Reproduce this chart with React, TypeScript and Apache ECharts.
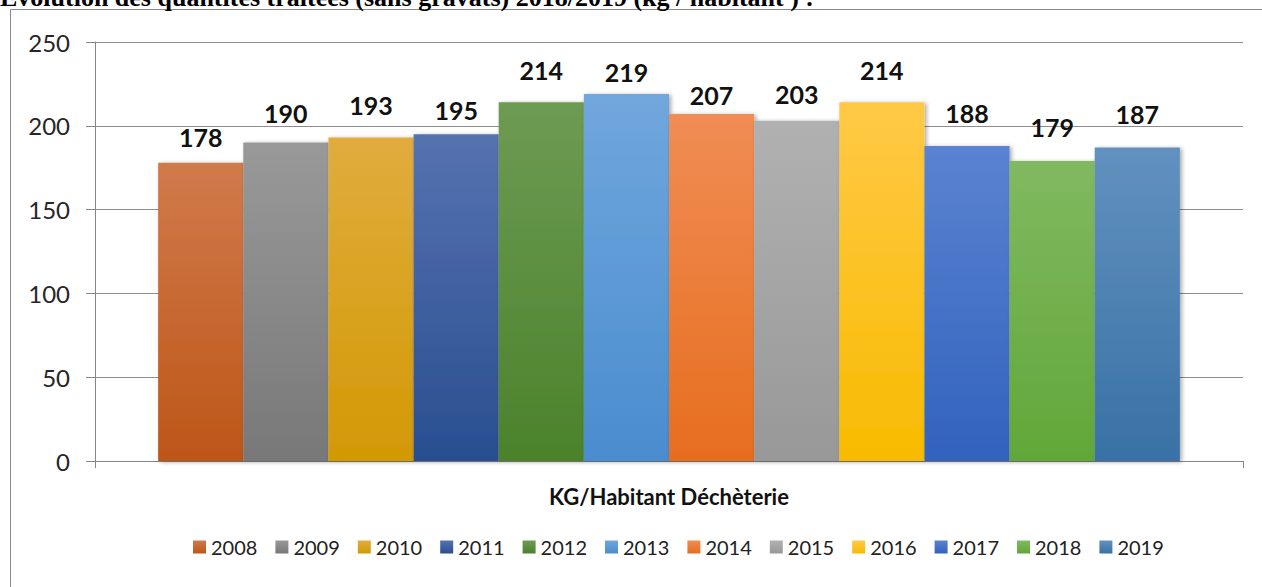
import React, { useEffect, useRef } from "react";
import * as echarts from "echarts";

const years = ["2008", "2009", "2010", "2011", "2012", "2013", "2014", "2015", "2016", "2017", "2018", "2019"];
const values = [178, 190, 193, 195, 214, 219, 207, 203, 214, 188, 179, 187];
const topColors = ["#D17A4B", "#999999", "#E1AC3E", "#5672B0", "#6D9B53", "#70A7DD", "#F08D55", "#B1B1B1", "#FFC946", "#5B83D1", "#81B960", "#6291BF"];
const bottomColors = ["#BD5618", "#787878", "#D29904", "#294E90", "#4B822B", "#4A8CCF", "#E76D1E", "#989898", "#F8BB00", "#3162BD", "#61A739", "#3871A5"];
const labelDistances = [13, 17, 20, 12, 20, 9, 7, 14, 20, 20, 21, 21];
const categoryName = "KG/Habitant Déchèterie";
const pageTitle = "Évolution des quantités traitées (sans gravats) 2018/2019 (kg / habitant ) :";

export default function App() {
  const ref = useRef<HTMLDivElement>(null);
  useEffect(() => {
    if (!ref.current) return;
    const chart = echarts.init(ref.current, null, { renderer: "svg" });
    const font = "Lato, 'Open Sans', sans-serif";
    const series = years.map((y, i) => ({
      name: y,
      type: "bar",
      data: [values[i]],
      barGap: "0%",
      barCategoryGap: "11%",
      itemStyle: {
        color: new echarts.graphic.LinearGradient(0, 0, 0, 1, [
          { offset: 0, color: topColors[i] },
          { offset: 1, color: bottomColors[i] },
        ]),
        shadowColor: "rgba(0,0,0,0.35)",
        shadowBlur: 4,
        shadowOffsetX: 2,
        shadowOffsetY: 1,
      },
      label: {
        show: true,
        position: "top",
        distance: labelDistances[i],
        fontFamily: font,
        fontWeight: "bold",
        fontSize: 25,
        color: "#111111",
      },
    }));
    chart.setOption({
      animation: false,
      backgroundColor: "#ffffff",
      grid: { left: 95, right: 19, top: 42, bottom: 126 },
      legend: {
        data: years,
        left: 188,
        top: 532,
        itemWidth: 13,
        itemHeight: 13,
        itemGap: 18,
        icon: "rect",
        textStyle: { fontFamily: font, fontSize: 20, color: "#222222", padding: [0, 0, 0, 0] },
      },
      xAxis: {
        type: "category",
        data: [categoryName],
        axisLine: { show: true, lineStyle: { color: "#868686", width: 1 } },
        axisTick: { show: true, length: 7, lineStyle: { color: "#868686" } },
        axisLabel: {
          margin: 24,
          fontFamily: font,
          fontWeight: "bold",
          fontSize: 22,
          color: "#111111",
        },
      },
      yAxis: {
        type: "value",
        min: 0,
        max: 250,
        interval: 50,
        axisLine: { show: true, lineStyle: { color: "#868686", width: 1 } },
        axisTick: { show: true, length: 9, lineStyle: { color: "#868686" } },
        splitLine: { show: true, lineStyle: { color: "#8C8C8C", width: 1 } },
        axisLabel: { margin: 25, fontFamily: font, fontSize: 24, color: "#262626" },
      },
      graphic: [
        {
          type: "rect",
          shape: { x: 10.5, y: 9.5, width: 1400, height: 800 },
          style: { fill: "none", stroke: "#8A8A8A", lineWidth: 1 },
          silent: true,
          z: -1,
        },
        {
          type: "text",
          x: 0,
          y: -16,
          style: {
            text: pageTitle,
            font: "bold 26px 'Liberation Serif', 'DejaVu Serif', serif",
            fill: "#000000",
            verticalAlign: "top",
          },
          silent: true,
          z: 10,
        },
      ],
      series,
    });
    return () => chart.dispose();
  }, []);
  return (
    <div
      ref={ref}
      style={{ position: "fixed", left: 0, top: 0, width: 1262, height: 587, background: "#fff" }}
    />
  );
}
